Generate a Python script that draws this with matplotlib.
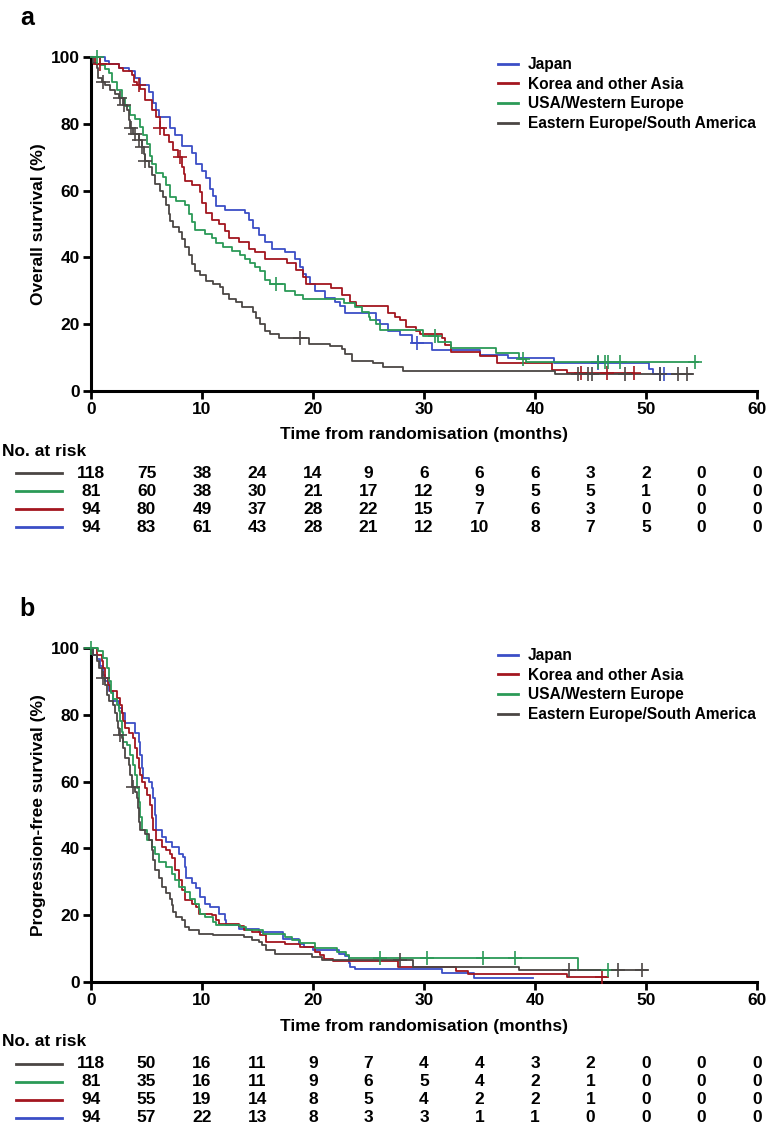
import numpy as np
import matplotlib
matplotlib.use("Agg")
import matplotlib.pyplot as plt
from matplotlib.lines import Line2D
from matplotlib import transforms

plt.rcParams["font.family"] = ["Liberation Sans", "DejaVu Sans"]
plt.rcParams["font.weight"] = "bold"
plt.rcParams["axes.labelweight"] = "bold"

# --- data ---------------------------------------------------------------
groups = ["Japan", "Korea and other Asia", "USA/Western Europe",
          "Eastern Europe/South America"]
colors = ["#3B4EC6", "#A3161F", "#2B9A57", "#4B4644"]

risk_times = [0, 5, 10, 15, 20, 25, 30, 35, 40, 45, 50, 55, 60]

# overall survival (a): step times (months) / survival after step (%)
os_jp_t = [1.3, 1.6, 2.5, 3.4, 4.0, 4.4, 5.2, 5.6, 5.9, 6.1, 7.1, 7.6, 8.2, 9.1,
           9.5, 10.0, 10.4, 10.7, 11.0, 11.3, 12.1, 13.9, 14.2, 14.6, 15.1, 15.7,
           16.3, 17.5, 18.4, 18.8, 19.1, 19.4, 19.7, 20.2, 21.1, 22.0, 22.4, 22.9,
           25.7, 26.0, 26.8, 27.8, 28.9, 30.7, 35.0, 37.6, 41.7, 50.3, 50.6]
os_jp_s = [98.9, 97.9, 96.8, 95.7, 93.6, 91.5, 89.4, 86.2, 84.0, 81.9, 78.7, 76.6,
           73.4, 71.3, 68.1, 66.0, 63.8, 60.6, 58.5, 55.3, 54.3, 53.2, 51.1, 48.9,
           46.8, 44.7, 42.6, 41.5, 39.4, 37.2, 35.1, 34.0, 31.9, 29.8, 27.7, 26.6,
           25.5, 23.4, 21.3, 20.2, 18.1, 16.9, 14.3, 12.3, 10.8, 9.8, 8.3, 6.5, 5.1]
os_jp_cens = [29.4, 45.7, 51.3, 51.6]
os_jp_end = 51.6

os_kr_t = [0.4, 2.5, 2.9, 3.7, 3.9, 4.1, 4.4, 4.9, 5.5, 5.9, 6.2, 6.6, 7.0, 7.4,
           7.8, 8.2, 8.4, 8.5, 9.1, 9.8, 10.0, 10.4, 10.9, 11.5, 12.1, 12.4, 13.3,
           14.2, 14.8, 15.7, 17.7, 18.5, 19.1, 19.4, 21.6, 22.6, 23.3, 23.9, 26.8,
           27.4, 27.8, 28.4, 29.3, 29.6, 31.6, 31.9, 32.4, 35.0, 36.6, 41.5, 42.9]
os_kr_s = [97.9, 96.8, 95.7, 94.7, 92.6, 91.5, 90.4, 87.2, 84.0, 81.9, 78.7, 76.6,
           74.5, 72.3, 70.2, 67.0, 64.9, 62.8, 61.7, 59.6, 56.4, 53.2, 51.1, 50.0,
           47.9, 45.7, 44.7, 42.6, 41.5, 39.4, 38.3, 36.2, 34.0, 31.9, 30.9, 28.7,
           26.6, 25.5, 23.4, 22.3, 21.3, 19.1, 18.1, 17.0, 16.0, 13.8, 11.7, 10.6,
           8.5, 6.4, 5.3]
os_kr_cens = [0.8, 4.3, 6.2, 8.0, 44.1, 46.5, 48.9]
os_kr_end = 48.9

os_us_t = [0.8, 1.3, 1.6, 1.9, 2.3, 2.8, 3.1, 3.5, 4.0, 4.4, 4.7, 5.0, 5.3, 5.5,
           5.9, 6.5, 6.8, 7.1, 7.7, 8.5, 8.8, 9.1, 9.4, 10.3, 10.9, 11.3, 11.9,
           12.7, 13.4, 13.9, 14.3, 14.8, 15.2, 15.7, 16.1, 17.5, 18.4, 19.1, 22.8,
           23.8, 24.4, 25.0, 25.1, 25.7, 26.0, 29.9, 31.3, 32.4, 36.5, 38.6, 39.2]
os_us_s = [97.5, 96.3, 95.1, 92.6, 90.1, 87.7, 85.2, 82.7, 81.5, 79.0, 76.5, 74.1,
           70.4, 67.9, 65.4, 64.2, 61.7, 58.0, 56.8, 55.6, 53.1, 50.6, 48.1, 46.9,
           45.7, 44.4, 43.2, 42.0, 40.7, 39.5, 38.3, 37.0, 35.8, 33.3, 32.1, 30.0,
           28.6, 27.6, 26.2, 25.2, 23.7, 22.2, 21.2, 20.2, 18.2, 16.4, 14.7, 13.0,
           11.4, 9.7, 8.7]
os_us_cens = [0.5, 16.7, 31.0, 38.9, 45.7, 46.3, 46.6, 47.7, 54.4]
os_us_end = 54.7

os_ee_t = [0.2, 0.5, 0.6, 1.0, 1.3, 1.7, 2.2, 2.5, 2.9, 3.2, 3.4, 3.5, 3.8, 4.3,
           4.6, 4.8, 4.9, 5.2, 5.5, 5.8, 6.2, 6.5, 6.8, 7.0, 7.1, 7.4, 7.9, 8.2,
           8.5, 8.8, 9.1, 9.4, 9.8, 10.4, 11.0, 11.6, 11.9, 12.4, 13.1, 13.6, 14.6,
           14.9, 15.2, 15.7, 16.1, 16.9, 19.6, 21.5, 22.6, 22.9, 23.5, 25.4, 26.3,
           28.1, 41.8]
os_ee_s = [98.3, 96.6, 93.6, 92.4, 91.5, 90.0, 88.9, 87.6, 85.6, 84.0, 81.0, 78.6,
           77.0, 75.0, 73.0, 71.0, 69.0, 67.0, 64.6, 62.0, 60.0, 58.0, 55.6, 53.0,
           51.0, 49.0, 47.6, 45.6, 43.0, 40.6, 38.0, 36.0, 34.6, 33.0, 32.0, 31.0,
           29.0, 27.6, 26.6, 25.0, 23.6, 22.0, 20.0, 18.0, 17.0, 16.0, 14.0, 13.6,
           12.6, 11.0, 9.0, 8.3, 7.3, 6.1, 5.1]
os_ee_cens = [1.1, 2.6, 3.0, 3.6, 4.0, 4.3, 4.6, 4.9, 18.8, 43.9, 44.8, 45.1,
              48.1, 51.3, 52.9, 53.7]
os_ee_end = 54.1

# progression-free survival (b)
pfs_jp_t = [0.2, 0.5, 0.8, 1.1, 1.3, 1.6, 2.0, 2.5, 2.8, 3.1, 4.0, 4.3, 4.4, 4.6,
            4.7, 5.2, 5.5, 5.6, 5.8, 5.9, 6.4, 6.8, 7.3, 7.9, 8.3, 8.5, 8.6, 9.1,
            9.5, 9.8, 10.3, 10.7, 11.5, 12.1, 12.2, 13.3, 15.1, 17.3, 18.7, 19.2,
            20.0, 22.3, 22.9, 23.2, 23.3, 23.8, 31.6, 34.5]
pfs_jp_s = [98.0, 96.6, 94.6, 92.0, 90.0, 87.0, 84.0, 82.0, 80.6, 77.6, 74.6, 72.0,
            68.0, 64.0, 61.0, 60.0, 58.0, 55.0, 50.0, 45.4, 43.4, 42.0, 40.4, 38.4,
            37.4, 34.4, 31.0, 29.5, 28.0, 25.5, 23.5, 22.5, 20.5, 18.5, 17.0, 16.0,
            15.0, 13.0, 11.5, 10.5, 9.5, 8.5, 7.8, 5.6, 4.4, 3.8, 2.6, 1.3]
pfs_jp_cens = []
pfs_jp_end = 39.8

pfs_kr_t = [0.5, 1.0, 1.1, 1.3, 1.5, 1.7, 2.3, 2.6, 2.8, 2.9, 3.1, 3.4, 3.8, 4.0,
            4.1, 4.3, 4.4, 4.6, 4.9, 5.0, 5.3, 5.5, 5.6, 5.9, 6.4, 6.8, 7.1, 7.3,
            7.6, 7.9, 8.2, 8.5, 9.1, 9.5, 9.7, 10.9, 11.3, 11.5, 13.3, 13.8, 14.5,
            15.2, 15.8, 17.5, 18.8, 20.2, 20.6, 21.0, 21.8, 27.7, 32.9, 34.0, 42.9]
pfs_kr_s = [98.0, 96.0, 94.0, 91.0, 89.0, 87.0, 85.0, 83.0, 80.6, 78.0, 76.0, 74.6,
            73.0, 70.0, 67.0, 64.0, 62.0, 60.0, 58.0, 56.0, 53.0, 49.0, 45.4, 42.4,
            40.4, 39.4, 38.4, 37.0, 33.4, 30.4, 27.5, 24.5, 23.5, 22.5, 20.5, 20.0,
            18.5, 17.5, 16.7, 15.5, 15.0, 14.0, 12.0, 11.3, 10.5, 9.0, 8.0, 7.0,
            6.2, 4.6, 3.4, 2.4, 1.6]
pfs_kr_cens = [46.0]
pfs_kr_end = 46.5

pfs_us_t = [0.6, 1.1, 1.4, 1.6, 1.8, 2.0, 2.3, 2.5, 2.6, 2.8, 2.9, 3.2, 3.5, 3.8,
            4.0, 4.1, 4.3, 4.4, 4.6, 5.0, 5.5, 5.8, 6.1, 6.8, 7.3, 7.6, 7.9, 8.5,
            8.9, 9.4, 9.7, 9.8, 10.3, 11.0, 11.3, 13.4, 14.0, 15.5, 17.5, 18.1,
            18.8, 20.2, 22.2, 23.0, 23.2, 43.9]
pfs_us_s = [99.0, 97.0, 94.0, 90.0, 86.6, 84.6, 83.0, 81.0, 78.0, 75.0, 72.0, 71.0,
            68.0, 65.0, 62.0, 58.0, 54.0, 49.4, 45.4, 42.4, 40.4, 38.4, 36.0, 34.4,
            32.4, 30.4, 28.4, 27.0, 25.0, 23.5, 22.0, 20.5, 19.5, 18.0, 17.0, 16.5,
            15.5, 14.5, 13.5, 12.5, 11.7, 10.2, 9.0, 8.0, 7.3, 3.6]
pfs_us_cens = [0.0, 26.0, 30.3, 35.3, 38.2, 46.6]
pfs_us_end = 47.0

pfs_ee_t = [0.2, 0.5, 0.7, 1.0, 1.3, 1.4, 1.6, 2.0, 2.2, 2.3, 2.4, 2.5, 2.8, 2.9,
            3.1, 3.4, 3.5, 3.7, 4.0, 4.1, 4.2, 4.3, 4.4, 4.9, 5.2, 5.5, 5.6, 5.8,
            6.1, 6.4, 6.8, 7.1, 7.3, 7.4, 7.7, 8.2, 8.5, 8.8, 9.7, 11.0, 13.8, 14.5,
            15.1, 15.4, 15.8, 16.6, 19.9, 20.8, 29.0, 38.6]
pfs_ee_s = [98.0, 96.0, 94.0, 91.0, 89.0, 86.0, 84.0, 83.0, 80.6, 78.0, 76.0, 74.0,
            73.0, 70.0, 67.0, 65.0, 62.0, 58.5, 57.0, 55.0, 52.0, 48.0, 45.4, 44.4,
            42.4, 39.4, 36.4, 33.4, 31.0, 28.4, 26.5, 25.0, 23.0, 21.0, 19.5, 18.5,
            16.5, 15.5, 14.5, 14.0, 13.5, 12.5, 12.0, 11.0, 9.5, 8.5, 7.6, 6.6, 4.6,
            3.6]
pfs_ee_cens = [1.1, 2.6, 3.8, 27.8, 43.1, 47.5, 49.6]
pfs_ee_end = 50.1

# numbers at risk, table order: EE/SA, USA/WE, Korea, Japan
os_risk_ee = [118, 75, 38, 24, 14, 9, 6, 6, 6, 3, 2, 0, 0]
os_risk_us = [81, 60, 38, 30, 21, 17, 12, 9, 5, 5, 1, 0, 0]
os_risk_kr = [94, 80, 49, 37, 28, 22, 15, 7, 6, 3, 0, 0, 0]
os_risk_jp = [94, 83, 61, 43, 28, 21, 12, 10, 8, 7, 5, 0, 0]

pfs_risk_ee = [118, 50, 16, 11, 9, 7, 4, 4, 3, 2, 0, 0, 0]
pfs_risk_us = [81, 35, 16, 11, 9, 6, 5, 4, 2, 1, 0, 0, 0]
pfs_risk_kr = [94, 55, 19, 14, 8, 5, 4, 2, 2, 1, 0, 0, 0]
pfs_risk_jp = [94, 57, 22, 13, 8, 3, 3, 1, 1, 0, 0, 0, 0]

# --- layout (pixels) -----------------------------------------------------
W, H = 767, 1127
fig = plt.figure(figsize=(W / 100, H / 100), dpi=100)


def px_axes(left, top, right, bottom):
    return fig.add_axes([left / W, 1 - bottom / H, (right - left) / W,
                         (bottom - top) / H])


def step_value(t, s, x):
    i = np.searchsorted(t, x, side="right")
    return 100.0 if i == 0 else s[i - 1]


def draw_panel(ax, curves, risk_rows, ylabel, letter, top, bottom):
    for (t, s, cens, end), col in zip(curves, colors):
        xs = [0] + t + [end]
        ys = [100] + s + [s[-1]]
        ax.plot(xs, ys, drawstyle="steps-post", color=col, lw=1.3,
                clip_on=False, zorder=3)
        if cens:
            cy = [step_value(t, s, c) for c in cens]
            ax.plot(cens, cy, ls="none", marker="+", ms=10, mew=1.2,
                    color=col, clip_on=False, zorder=4)

    ax.set_xlim(0, 60)
    ax.set_ylim(0, 100)
    ax.set_xticks(risk_times[::2])
    ax.set_yticks([0, 20, 40, 60, 80, 100])
    for sp in ["top", "right"]:
        ax.spines[sp].set_visible(False)
    for sp in ["left", "bottom"]:
        ax.spines[sp].set_linewidth(2.2)
    ax.tick_params(direction="out", length=6, width=2, labelsize=12.5, pad=2)

    ax.set_xlabel("Time from randomisation (months)", fontsize=12.5)
    ax.xaxis.set_label_coords(0.5, -44 / (bottom - top))
    ax.xaxis.label.set_va("center")
    ax.set_ylabel(ylabel, fontsize=12.5)
    ax.yaxis.set_label_coords(-52 / 666, 0.5)
    ax.yaxis.label.set_va("center")

    handles = [Line2D([], [], color=c, lw=2) for c in colors]
    ax.legend(handles, groups, loc="upper left",
              bbox_to_anchor=((498 - 91) / 666, 1.0), frameon=False,
              fontsize=11.2, handlelength=1.3, handletextpad=0.6,
              labelspacing=0.3, borderaxespad=0, borderpad=0)

    fig.text(27 / W, 1 - (top - 39) / H, letter, fontsize=18,
             fontweight="bold", ha="center", va="center")

    # numbers at risk table
    fig.text(2 / W, 1 - (bottom + 60) / H, "No. at risk", fontsize=12.5,
             ha="left", va="center")
    trans = transforms.blended_transform_factory(ax.transData, fig.transFigure)
    row_cols = [colors[3], colors[2], colors[1], colors[0]]
    for i, (row, col) in enumerate(zip(risk_rows, row_cols)):
        y = 1 - (bottom + 82 + 18 * i) / H
        fig.add_artist(Line2D([16 / W, 62 / W], [y, y], color=col, lw=2,
                              transform=fig.transFigure))
        for tx, n in zip(risk_times, row):
            ax.text(tx, y, str(n), transform=trans, ha="center", va="center",
                    fontsize=12.5, clip_on=False)


ax_a = px_axes(91, 57, 757, 391)
draw_panel(ax_a,
           [(os_jp_t, os_jp_s, os_jp_cens, os_jp_end),
            (os_kr_t, os_kr_s, os_kr_cens, os_kr_end),
            (os_us_t, os_us_s, os_us_cens, os_us_end),
            (os_ee_t, os_ee_s, os_ee_cens, os_ee_end)],
           [os_risk_ee, os_risk_us, os_risk_kr, os_risk_jp],
           "Overall survival (%)", "a", 57, 391)

ax_b = px_axes(91, 648, 757, 982)
draw_panel(ax_b,
           [(pfs_jp_t, pfs_jp_s, pfs_jp_cens, pfs_jp_end),
            (pfs_kr_t, pfs_kr_s, pfs_kr_cens, pfs_kr_end),
            (pfs_us_t, pfs_us_s, pfs_us_cens, pfs_us_end),
            (pfs_ee_t, pfs_ee_s, pfs_ee_cens, pfs_ee_end)],
           [pfs_risk_ee, pfs_risk_us, pfs_risk_kr, pfs_risk_jp],
           "Progression-free survival (%)", "b", 648, 982)

fig.savefig("out.png", dpi=100)
